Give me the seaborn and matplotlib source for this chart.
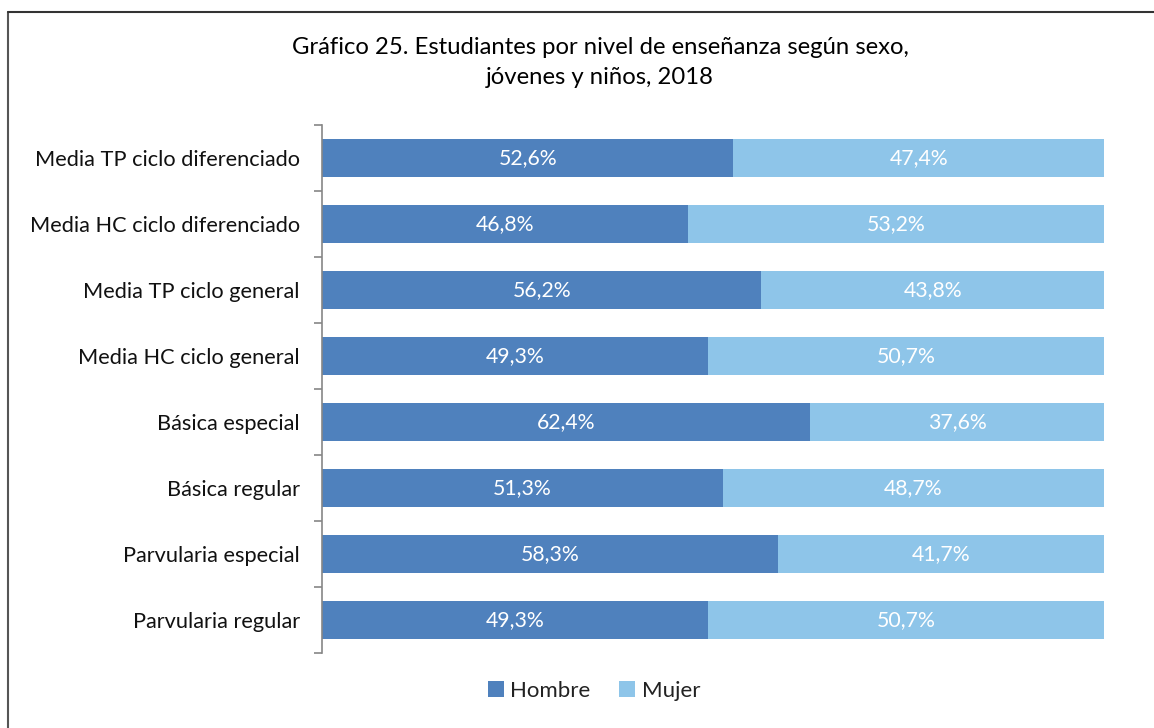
import matplotlib
matplotlib.use("Agg")
import matplotlib.pyplot as plt
import seaborn as sns
import pandas as pd
from matplotlib.lines import Line2D
from matplotlib.patches import Patch

categorias = ["Media TP ciclo diferenciado", "Media HC ciclo diferenciado",
              "Media TP ciclo general", "Media HC ciclo general",
              "Básica especial", "Básica regular",
              "Parvularia especial", "Parvularia regular"]
hombre = [52.6, 46.8, 56.2, 49.3, 62.4, 51.3, 58.3, 49.3]
mujer = [47.4, 53.2, 43.8, 50.7, 37.6, 48.7, 41.7, 50.7]

c_h = "#4F81BD"
c_m = "#8EC5E9"

sns.set_theme(style="white")
plt.rcParams['font.family'] = ['Lato', 'DejaVu Sans']

df = pd.DataFrame({"cat": categorias, "Hombre": hombre, "Mujer": mujer})
df["Total"] = df["Hombre"] + df["Mujer"]

fig = plt.figure(figsize=(11.54, 7.28), dpi=100)
ax = fig.add_axes([322/1154, 1-653/728, (1104-322)/1154, (653-125)/728])

sns.barplot(data=df, y="cat", x="Total", color=c_m, orient="h", width=0.59,
            ax=ax, saturation=1, edgecolor="none")
sns.barplot(data=df, y="cat", x="Hombre", color=c_h, orient="h", width=0.59,
            ax=ax, saturation=1, edgecolor="none")

ax.set_xlim(0, 100)
ax.set_ylim(len(categorias) - 0.5, -0.5)
ax.set_xlabel("")
ax.set_ylabel("")
ax.set_xticks([])
for s in ["top", "right", "bottom"]:
    ax.spines[s].set_visible(False)
ax.spines["left"].set_color("#868686")
ax.spines["left"].set_linewidth(1.2)

ax.set_yticks([i for i in range(len(categorias))])
ax.set_yticklabels(categorias, fontsize=15.7, color="#111111")
ax.tick_params(axis="y", which="major", left=True, length=0, pad=16)
# boundary ticks
ax.set_yticks([i - 0.5 for i in range(len(categorias) + 1)], minor=True)
ax.tick_params(axis="y", which="minor", left=True, length=6, width=1.2,
               color="#868686", direction="out")

def fmt(v):
    return f"{v:.1f}%".replace(".", ",")

for i, (h, m) in enumerate(zip(hombre, mujer)):
    ax.text(h / 2, i, fmt(h), ha="center", va="center", color="white", fontsize=15.3)
    ax.text(h + m / 2, i, fmt(m), ha="center", va="center", color="white", fontsize=15.3)

fig.text(600/1154, 1-47/728, "Gráfico 25. Estudiantes por nivel de enseñanza según sexo,",
         ha="center", va="center", fontsize=17.2, color="#000000")
fig.text(600/1154, 1-77/728, "jóvenes y niños, 2018",
         ha="center", va="center", fontsize=17.2, color="#000000")

handles = [Patch(facecolor=c_h, edgecolor="none", label="Hombre"),
           Patch(facecolor=c_m, edgecolor="none", label="Mujer")]
fig.legend(handles=handles, loc="center", bbox_to_anchor=(594/1154, 1-691/728),
           ncol=2, frameon=False, fontsize=16, handlelength=0.7, handleheight=0.7,
           handletextpad=0.3, columnspacing=1.3, labelcolor="#222222")

# outer frame (left and top edges visible)
fig.add_artist(Line2D([7.5/1154, 7.5/1154], [0, 1-12/728], transform=fig.transFigure,
                      color="#555555", linewidth=1.5))
fig.add_artist(Line2D([7.5/1154, 1], [1-12/728, 1-12/728], transform=fig.transFigure,
                      color="#333333", linewidth=1.5))

fig.savefig("out.png", dpi=100)
